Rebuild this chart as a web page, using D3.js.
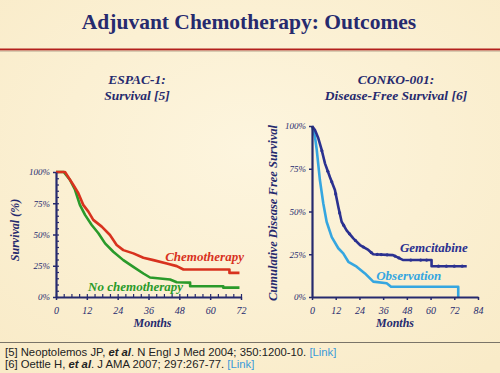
<!DOCTYPE html>
<html>
<head>
<meta charset="utf-8">
<script src="https://cdn.jsdelivr.net/npm/d3@7"></script>
<style>
  body { margin: 0; background: #fcf1d4; }
  svg { display: block; }
</style>
</head>
<body>
<div id="chart"></div>
<script>
// ESPAC-1 survival (months, %) - repeated month = vertical drop
const chemoMonths = [0, 3.5, 6.7, 8.7, 10.6, 12.6, 14.5, 17.8, 21, 23.6, 26.2, 30.1, 34, 37.9, 43.1, 47, 49.6, 67.5, 67.5, 71.4];
const chemoValues = [100, 100, 89.8, 83, 73.7, 68.3, 61.7, 56.3, 49.6, 41.6, 37.5, 34.9, 31.4, 29.5, 26.8, 24.7, 22, 22, 19.3, 19.3];
const noChemoMonths = [0, 3, 5.4, 7.4, 9.3, 11.3, 13.9, 16.5, 19.1, 22.3, 26.2, 30.1, 34, 36.6, 44.4, 47, 52.2, 52.2, 65.1, 65.1, 71.4];
const noChemoValues = [100, 100, 93.8, 85.8, 73.7, 65.7, 57.6, 51, 42.9, 36.2, 29.5, 24.1, 18.8, 15.6, 14, 11.8, 11.5, 8.6, 8.6, 7.5, 7.5];

// CONKO-001 disease-free survival (months, %)
const gemMonths = [0, 1.5, 3.2, 4.9, 6.6, 9.1, 11.6, 13.3, 15, 17.5, 20.9, 24.3, 28.5, 31, 41, 46.2, 60.5, 60.5, 78.3];
const gemValues = [100, 97.7, 92.8, 86, 78, 70, 62.6, 52.8, 44, 39, 34.3, 30.4, 27.5, 25, 24.5, 21.6, 21.6, 18, 18];
const obsMonths = [0, 1.5, 2.4, 4, 5.7, 7.4, 10, 13.3, 15.8, 18.4, 22.6, 26.8, 31, 37.8, 40, 74, 74];
const obsValues = [100, 93.7, 86, 68.4, 54.8, 44, 35, 28.5, 25.5, 20.6, 17.7, 13.8, 9, 8, 6, 6, 0];
const gemCensor = [5, 8, 10, 12, 14, 16, 19, 22, 26, 30, 33, 35, 38, 42, 44, 50, 55, 58, 64, 68, 72, 76];

const leftTicks = [0, 12, 24, 36, 48, 60, 72];
const rightTicks = [0, 12, 24, 36, 48, 60, 72, 84];
const pctTicks = [0, 25, 50, 75, 100];

const W = 500, H = 373;
const navy = "#262a6e";
const serif = "'Liberation Serif', 'DejaVu Serif', serif";

const svg = d3.select("#chart").append("svg")
  .attr("width", W).attr("height", H);

// background
const grad = svg.append("defs").append("radialGradient").attr("id", "bg")
  .attr("cx", "50%").attr("cy", "40%").attr("r", "75%");
grad.append("stop").attr("offset", "0%").attr("stop-color", "#fdf5de");
grad.append("stop").attr("offset", "100%").attr("stop-color", "#f9ebc8");
svg.append("rect").attr("width", W).attr("height", H).attr("fill", "url(#bg)");

// title
svg.append("text")
  .attr("x", 249).attr("y", 29)
  .attr("text-anchor", "middle")
  .attr("font-family", serif).attr("font-weight", "bold").attr("font-size", 21.5)
  .attr("fill", navy)
  .text("Adjuvant Chemotherapy: Outcomes");

svg.append("line").attr("x1", 0).attr("x2", W).attr("y1", 49.5).attr("y2", 49.5)
  .attr("stroke", "#b3201c").attr("stroke-width", 2);
svg.append("line").attr("x1", 0).attr("x2", W).attr("y1", 51.2).attr("y2", 51.2)
  .attr("stroke", "#c9b9a0").attr("stroke-width", 1);

// panel subtitles
function subtitle(x, lines) {
  lines.forEach(function (t, i) {
    svg.append("text")
      .attr("x", x).attr("y", 84 + i * 16)
      .attr("text-anchor", "middle")
      .attr("font-family", serif).attr("font-weight", "bold").attr("font-style", "italic")
      .attr("font-size", 13.5).attr("fill", navy)
      .text(t);
  });
}
subtitle(137, ["ESPAC-1:", "Survival [5]"]);
subtitle(396, ["CONKO-001:", "Disease-Free Survival [6]"]);

function panel(opt) {
  const x = d3.scaleLinear().domain([0, opt.xMax]).range([opt.x0, opt.x1]);
  const y = d3.scaleLinear().domain([0, 100]).range([297, opt.yTop]);
  const g = svg.append("g");

  // minor ticks (left panel only), drawn inside the plot
  if (opt.minor) {
    g.append("g").attr("transform", "translate(0,297)")
      .call(d3.axisTop(x).tickValues(d3.range(0, opt.xMax + 1, 3)).tickSize(3).tickFormat(""))
      .call(a => a.select(".domain").remove())
      .selectAll("line").attr("stroke", navy).attr("stroke-width", 1.2);
    g.append("g").attr("transform", "translate(" + opt.x0 + ",0)")
      .call(d3.axisRight(y).tickValues(d3.range(0, 101, 5)).tickSize(3).tickFormat(""))
      .call(a => a.select(".domain").remove())
      .selectAll("line").attr("stroke", navy).attr("stroke-width", 1.2);
  }

  const line = d3.line().x(d => x(d[0])).y(d => y(d[1]));
  opt.series.forEach(function (s) {
    g.append("path")
      .datum(d3.zip(s.months, s.values))
      .attr("fill", "none").attr("stroke", s.color)
      .attr("stroke-width", 2.6).attr("stroke-linejoin", "round")
      .attr("d", line);
  });

  const xAxis = g.append("g").attr("transform", "translate(0,297)")
    .call(d3.axisBottom(x).tickValues(opt.ticks).tickSize(3).tickSizeOuter(0));
  const yAxis = g.append("g").attr("transform", "translate(" + opt.x0 + ",0)")
    .call(d3.axisLeft(y).tickValues(pctTicks).tickSize(3).tickSizeOuter(0)
      .tickFormat(d => d + "%"));
  [xAxis, yAxis].forEach(function (a) {
    a.select(".domain").attr("stroke", navy).attr("stroke-width", 2.2);
    a.selectAll(".tick line").attr("stroke", navy).attr("stroke-width", 1.5);
    a.selectAll("text").attr("fill", navy).attr("font-family", serif)
      .attr("font-style", "italic").attr("font-size", 9);
  });
  xAxis.selectAll("text").attr("dy", "1.1em").attr("font-size", 10);

  g.append("text")
    .attr("x", (opt.x0 + opt.x1) / 2 + opt.monthsDx).attr("y", 327)
    .attr("text-anchor", "middle")
    .attr("font-family", serif).attr("font-weight", "bold").attr("font-style", "italic")
    .attr("font-size", 12).attr("fill", navy)
    .text("Months");

  g.append("text")
    .attr("transform", "translate(" + opt.yLabelX + "," + opt.yLabelY + ") rotate(-90)")
    .attr("text-anchor", "middle")
    .attr("font-family", serif).attr("font-weight", "bold").attr("font-style", "italic")
    .attr("font-size", opt.yLabelSize).attr("fill", navy)
    .text(opt.yLabel);

  opt.labels.forEach(function (l) {
    g.append("text")
      .attr("x", x(l.m)).attr("y", y(l.v))
      .attr("font-family", serif).attr("font-weight", "bold").attr("font-style", "italic")
      .attr("font-size", 13).attr("fill", l.color)
      .text(l.text);
  });
  return { x: x, y: y, g: g };
}

panel({
  x0: 56, x1: 241, xMax: 72, yTop: 172, ticks: leftTicks, minor: true,
  yLabel: "Survival (%)", yLabelX: 19, yLabelY: 230, yLabelSize: 12, monthsDx: 4,
  series: [
    { months: noChemoMonths, values: noChemoValues, color: "#2a9a2a" },
    { months: chemoMonths, values: chemoValues, color: "#d8321e" }
  ],
  labels: [
    { text: "Chemotherapy", m: 42.5, v: 29, color: "#d8321e" },
    { text: "No chemotherapy", m: 12.5, v: 5, color: "#2a9a2a" }
  ]
});

const right = panel({
  x0: 312, x1: 478, xMax: 84, yTop: 126, ticks: rightTicks, minor: false,
  yLabel: "Cumulative Disease Free Survival", yLabelX: 277, yLabelY: 213, yLabelSize: 12.5, monthsDx: 0,
  series: [
    { months: obsMonths, values: obsValues, color: "#35a6e0" },
    { months: gemMonths, values: gemValues, color: "#2b3190" }
  ],
  labels: [
    { text: "Gemcitabine", m: 44.5, v: 26.5, color: "#2b3190" },
    { text: "Observation", m: 32.5, v: 10, color: "#35a6e0" }
  ]
});

// censor marks on the gemcitabine curve
const gemAt = d3.scaleLinear().domain(gemMonths.slice(0, 17)).range(gemValues.slice(0, 17)).clamp(true);
right.g.selectAll("circle.cens")
  .data(gemCensor)
  .join("circle")
  .attr("class", "cens")
  .attr("cx", d => right.x(d))
  .attr("cy", d => right.y(d > 60.5 ? 18 : gemAt(d)))
  .attr("r", 1.6)
  .attr("fill", "#2b3190");

// footer
svg.append("line").attr("x1", 0).attr("x2", W).attr("y1", 342.5).attr("y2", 342.5)
  .attr("stroke", "#7a7468").attr("stroke-width", 1);

const refs = [
  { pre: "[5] Neoptolemos JP, ", it: "et al", post: ". N Engl J Med 2004; 350:1200-10. " },
  { pre: "[6] Oettle H, ", it: "et al", post: ". J AMA 2007; 297:267-77. " }
];
refs.forEach(function (r, i) {
  const t = svg.append("text")
    .attr("x", 5).attr("y", 356 + i * 11.5)
    .attr("font-family", "'Liberation Sans', Arial, sans-serif")
    .attr("font-size", 11.3).attr("fill", "#222");
  t.append("tspan").text(r.pre);
  t.append("tspan").attr("font-style", "italic").attr("font-weight", "bold").text(r.it);
  t.append("tspan").text(r.post);
  t.append("tspan").attr("fill", "#3a9ad9").text("[Link]");
});
</script>
</body>
</html>
